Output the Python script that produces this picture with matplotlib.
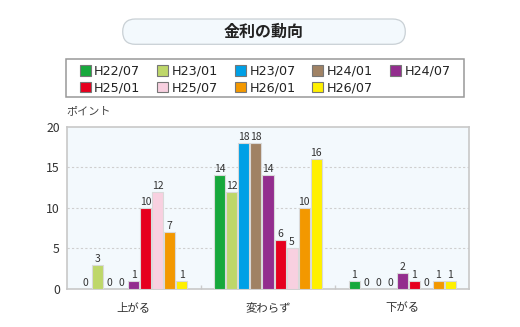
import matplotlib
matplotlib.use("Agg")
import matplotlib.pyplot as plt
from matplotlib.patches import FancyBboxPatch, Patch, Rectangle
import numpy as np

plt.rcParams['font.family'] = ['Noto Sans CJK JP', 'DejaVu Sans']

categories = ["上がる", "変わらず", "下がる"]
series = ["H22/07", "H23/01", "H23/07", "H24/01", "H24/07",
          "H25/01", "H25/07", "H26/01", "H26/07"]
colors = ["#17a83c", "#bed76a", "#00a0e6", "#a08264", "#932d8e",
          "#e6001e", "#f8d0e0", "#f39800", "#fff000"]
values_up = [0, 3, 0, 0, 1, 10, 12, 7, 1]
values_same = [14, 12, 18, 18, 14, 6, 5, 10, 16]
values_down = [1, 0, 0, 0, 2, 1, 0, 1, 1]
yticks = [0, 5, 10, 15, 20]
title = "金利の動向"
unit_label = "ポイント"

W, H = 520, 327
fig = plt.figure(figsize=(W / 100, H / 100), dpi=100)
fig.patch.set_facecolor("white")

# title pill
px0, px1, ptop, pbot = 122.7, 405.3, 19.0, 44.3
pill = FancyBboxPatch(
    (px0 / 100, (H - pbot) / 100), (px1 - px0) / 100, (pbot - ptop) / 100,
    boxstyle="round,pad=0,rounding_size=%f" % ((pbot - ptop) / 200),
    transform=fig.dpi_scale_trans, facecolor="#f3f9fd",
    edgecolor="#c9d0d5", linewidth=0.9)
fig.patches.append(pill)
fig.text(264 / W, 1 - 32 / H, title, ha="center", va="center",
         fontsize=11.5, fontweight="bold", color="#222222")

# chart area
ax = fig.add_axes([66.7 / W, 38 / H, (469.3 - 66.7) / W, (289 - 126.7) / H])
ax.set_facecolor("#f3f9fd")

data = np.array([values_up, values_same, values_down])
n = len(series)
pitch = 12 / 134
width = 11 / 134
x = np.arange(len(categories))
for j in range(n):
    xs = x + (j - (n - 1) / 2) * pitch
    vals = data[:, j]
    ax.bar(xs, vals, width=width, color=colors[j], edgecolor="#d9d9d9",
           linewidth=0.8, label=series[j], zorder=3)
    for xi, v in zip(xs, vals):
        ax.annotate(str(v), (xi, v), xytext=(0, 0.8), textcoords="offset points",
                    ha="center", va="bottom", fontsize=7.5, color="#333333",
                    zorder=4)

ax.set_xlim(-0.5, 2.5)
ax.set_ylim(0, 20)
ax.set_yticks(yticks)
ax.set_yticklabels([str(t) for t in yticks], fontsize=8.8, color="#333333")
ax.tick_params(axis="y", length=0, pad=5)
ax.set_xticks(x)
ax.set_xticklabels(categories, fontsize=8.2, color="#333333")
ax.tick_params(axis="x", which="major", length=0, pad=9.5)
ax.set_xticks([0.5, 1.5], minor=True)
ax.tick_params(axis="x", which="minor", direction="in", length=3,
               color="#cccccc", width=1)
for yv in yticks[1:-1]:
    ax.axhline(yv, color="#cfcfcf", linewidth=0.8, linestyle=(0, (2, 2)),
               zorder=1)
for s in ax.spines.values():
    s.set_color("#c8c8c8")
    s.set_linewidth(1.2)

fig.text(66 / W, 1 - 111 / H, unit_label, ha="left", va="center",
         fontsize=8, color="#444444")

# legend box
bx0, bx1, btop, bbot = 65.7, 464.0, 59.0, 97.3
fig.patches.append(Rectangle((bx0 / W, 1 - bbot / H), (bx1 - bx0) / W,
                             (bbot - btop) / H, transform=fig.transFigure,
                             facecolor="white", edgecolor="#999999",
                             linewidth=1.1))

# legend entries, row-major ordering across 5 columns
handles = [Patch(facecolor=c, edgecolor="#777777", linewidth=0.8) for c in colors]
order = [0, 5, 1, 6, 2, 7, 3, 8, 4]
leg = fig.legend([handles[i] for i in order], [series[i] for i in order],
                 ncol=5, loc="upper left",
                 bbox_to_anchor=(79.5 / W, 1 - 65 / H),
                 prop={"family": "DejaVu Sans", "size": 9.2},
                 frameon=False,
                 handlelength=0.88, handleheight=0.88, handletextpad=0.27,
                 labelspacing=0.28, borderpad=0, borderaxespad=0,
                 columnspacing=1.3)
for t in leg.get_texts():
    t.set_color("#222222")

fig.savefig("out.png", dpi=100)
